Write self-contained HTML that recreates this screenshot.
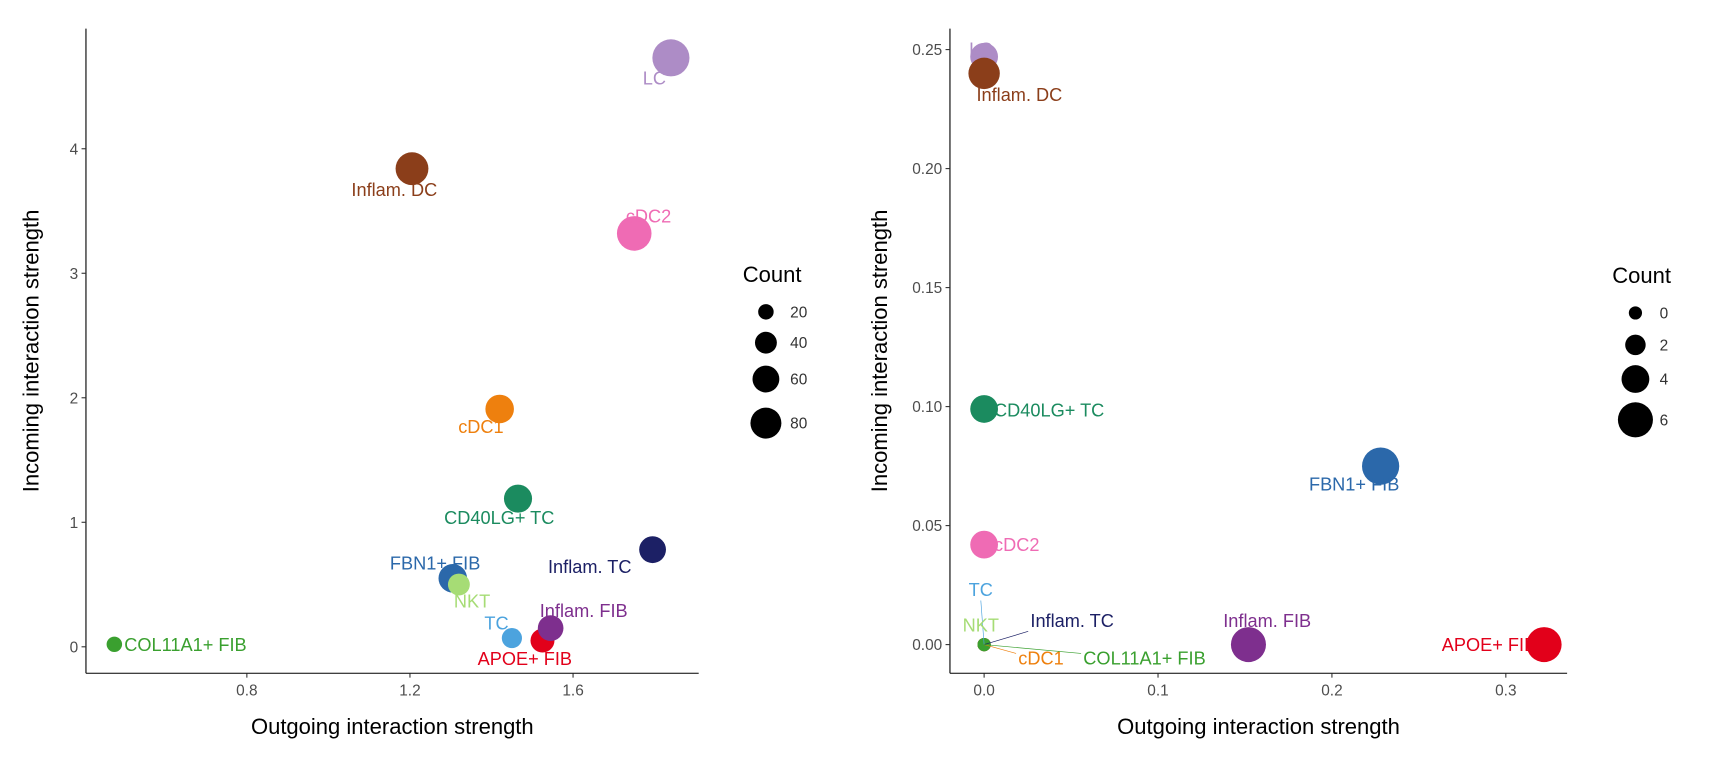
<!DOCTYPE html>
<html><head><meta charset="utf-8"><style>
html,body{margin:0;padding:0;background:#fff;overflow:hidden;width:1728px;height:768px;}
svg{display:block;font-family:"Liberation Sans",Arial,sans-serif;}
</style></head><body>
<svg id="chart" width="1728" height="768" viewBox="0 0 1568 697" preserveAspectRatio="none"></svg>
<script>
const leftNames=["LC","Inflam. DC","cDC2","cDC1","CD40LG+ TC","Inflam. TC","FBN1+ FIB","NKT","TC","APOE+ FIB","Inflam. FIB","COL11A1+ FIB"];
const leftX=[1.84,1.205,1.75,1.42,1.465,1.795,1.305,1.32,1.45,1.525,1.545,0.475];
const leftY=[4.73,3.84,3.32,1.91,1.19,0.78,0.55,0.50,0.07,0.05,0.15,0.02];
const leftCount=[115,90,100,68,66,60,68,40,34,48,55,20];
const leftXTicks=[0.8,1.2,1.6];
const leftYTicks=[0,1,2,3,4];
const leftLegend=[20,40,60,80];
const rightNames=["LC","Inflam. DC","CD40LG+ TC","FBN1+ FIB","cDC2","Inflam. FIB","APOE+ FIB","TC","NKT","Inflam. TC","cDC1","COL11A1+ FIB"];
const rightX=[0,0,0,0.228,0,0.152,0.322,0,0,0,0,0];
const rightY=[0.247,0.240,0.099,0.075,0.042,0,0,0,0,0,0,0];
const rightCount=[4,5,4,6.6,4,6,6,0,0,0,0,0];
const rightXTicks=[0,0.1,0.2,0.3];
const rightYTicks=[0,0.05,0.10,0.15,0.20,0.25];
const rightYTickLabels=["0.00","0.05","0.10","0.15","0.20","0.25"];
const rightLegend=[0,2,4,6];
const colors={"LC":"#AD8CC6","Inflam. DC":"#8B3E1A","cDC2":"#EF6BB4","cDC1":"#EE800E","CD40LG+ TC":"#1B8B5F","Inflam. TC":"#1C2065","FBN1+ FIB":"#2B68AA","NKT":"#A6DC75","TC":"#4CA3DE","APOE+ FIB":"#E2001A","Inflam. FIB":"#7E2F8E","COL11A1+ FIB":"#3AA02F"};
const leftLab={"LC":[-15,24,"middle"],"Inflam. DC":[-16,25,"middle"],"cDC2":[13,-10,"middle"],"cDC1":[-17,22,"middle"],"CD40LG+ TC":[-17,23,"middle"],"Inflam. TC":[-57,21,"middle"],"FBN1+ FIB":[-16,-8,"middle"],"NKT":[12,21,"middle"],"TC":[-14,-8,"middle"],"APOE+ FIB":[-16,22,"middle"],"Inflam. FIB":[30,-10,"middle"],"COL11A1+ FIB":[9,6,"start"]};
const rightLab={"LC":[-3,-1,"middle"],"Inflam. DC":[32,25,"middle"],"CD40LG+ TC":[9,7,"start"],"FBN1+ FIB":[-24,22,"middle"],"cDC2":[9,6,"start"],"Inflam. FIB":[17,-16,"middle"],"APOE+ FIB":[-50,6,"middle"],"TC":[-3,-44,"middle","l"],"NKT":[-3,-12,"middle"],"Inflam. TC":[42,-16,"start","l"],"cDC1":[31,18,"start","l"],"COL11A1+ FIB":[90,18,"start","l"]};
const svg=document.getElementById('chart');
const NS="http://www.w3.org/2000/svg";
function el(t,a,txt){const e=document.createElementNS(NS,t);for(const k in a)e.setAttribute(k,a[k]);if(txt!==undefined)e.textContent=txt;svg.appendChild(e);return e;}
function panel(o){
  const sx=v=>o.x0+(v-o.xv0)*o.xk, sy=v=>o.y0-(v-o.yv0)*o.yk;
  let e=el('line',{x1:o.axL,y1:o.axT,x2:o.axL,y2:o.axB,stroke:'#000','stroke-width':1});
  
  e=el('line',{x1:o.axL,y1:o.axB,x2:o.axR,y2:o.axB,stroke:'#000','stroke-width':1});
  
  o.xt.forEach((v,i)=>{const x=sx(v);el('line',{x1:x,y1:o.axB,x2:x,y2:o.axB+4,stroke:'#333'});
    e=el('text',{x:x,y:o.axB+20,'text-anchor':'middle','font-size':14,fill:'#4d4d4d'},o.xtl?o.xtl[i]:String(v));
    });
  o.yt.forEach((v,i)=>{const y=sy(v);el('line',{x1:o.axL-4,y1:y,x2:o.axL,y2:y,stroke:'#333'});
    e=el('text',{x:o.axL-7,y:y+5,'text-anchor':'end','font-size':14,fill:'#4d4d4d'},o.ytl?o.ytl[i]:String(v));
    });
  e=el('text',{x:(o.axL+o.axR)/2,y:o.axB+55,'text-anchor':'middle','font-size':20},'Outgoing interaction strength');
  
  const yc=(o.axT+o.axB)/2, yx=o.axL-o.ytOff;
  e=el('text',{x:yx,y:yc,'text-anchor':'middle','font-size':20,transform:`rotate(-90 ${yx} ${yc})`},'Incoming interaction strength');
  
  o.names.forEach((n,i)=>{const cx=sx(o.xs[i]),cy=sy(o.ys[i]);
    e=el('circle',{cx:cx,cy:cy,r:o.rf(o.cs[i]),fill:colors[n]});
    });
  o.names.forEach((n,i)=>{const cx=sx(o.xs[i]),cy=sy(o.ys[i]);const L=o.lab[n];
    if(L[3]){el('line',{x1:cx,y1:cy,x2:cx+L[0]-(L[2]==='start'?2:0),y2:cy+L[1]+(L[1]<0?4:-10),stroke:colors[n],'stroke-width':0.6});}
    e=el('text',{x:cx+L[0],y:cy+L[1],'text-anchor':L[2],'font-size':16.5,fill:colors[n]},n);
    });
  e=el('text',{x:o.lgX-21,y:o.lgT,'font-size':20},'Count');
  
  o.leg.forEach((v,i)=>{const y=o.lgY[i];
    e=el('circle',{cx:o.lgX,cy:y,r:o.rf(v),fill:'#000'});
    
    el('text',{x:o.lgX+22,y:y+5,'font-size':14,fill:'#333'},String(v));});
}
panel({p:'left',axL:78,axR:634,axT:26,axB:611,x0:224,xv0:0.8,xk:370,y0:587,yv0:0,yk:113,ytOff:43,
  xt:leftXTicks,yt:leftYTicks,names:leftNames,xs:leftX,ys:leftY,cs:leftCount,rf:c=>1.57*Math.sqrt(c),
  lab:leftLab,leg:leftLegend,lgX:695,lgT:256,lgY:[283,311,344,384]});
panel({p:'right',axL:862,axR:1422,axT:26,axB:611,x0:893,xv0:0,xk:1578,y0:585,yv0:0,yk:2160,ytOff:57,
  xt:rightXTicks,xtl:["0.0","0.1","0.2","0.3"],yt:rightYTicks,ytl:rightYTickLabels,names:rightNames,xs:rightX,ys:rightY,cs:rightCount,rf:c=>6+1.65*c,
  lab:rightLab,leg:rightLegend,lgX:1484,lgT:257,lgY:[284,313,344,381]});
const w=el('text',{x:1562,y:742,'text-anchor':'end','font-size':13,fill:'#b0b0b0'},'CSDN @DerekRusso');


</script>
</body></html>
